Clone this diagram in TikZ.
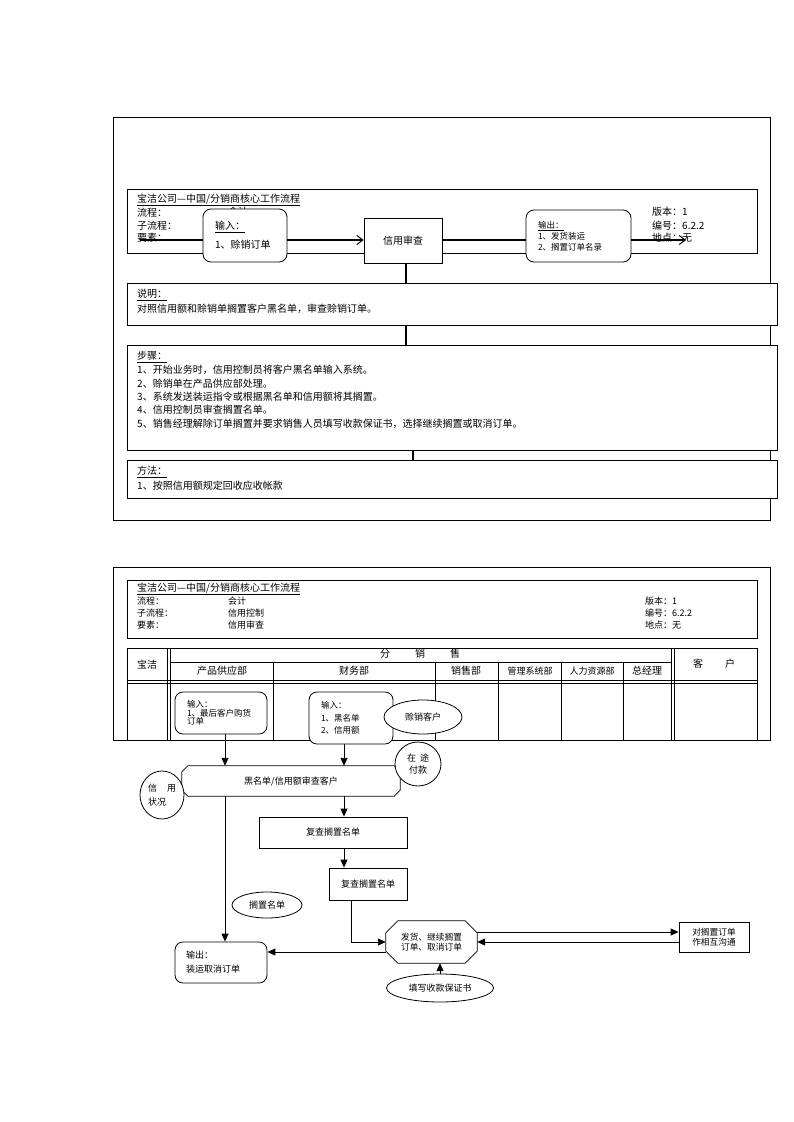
\documentclass[tikz,border=0pt]{standalone}
\usepackage{fontspec}
\setmainfont{Noto Sans CJK SC}
\usetikzlibrary{arrows.meta,shapes.geometric}
\begin{document}
\begin{tikzpicture}[x=1pt,y=-1pt,
  ln/.style={line width=0.8pt},
  box/.style={draw, line width=0.8pt, inner sep=0pt, fill=white},
  rbox/.style={box, rounded corners=8pt},
  txt/.style={inner sep=0pt, anchor=west, align=left},
  thickln/.style={line width=2.8pt},
  bigarrow/.style={thickln, -{Straight Barb[line width=1pt,length=6pt,width=9pt]}},
  flow/.style={line width=0.9pt, -{Triangle[length=8pt,width=7pt]}},
  f10/.style={font=\fontsize{10pt}{13pt}\selectfont},
  f9/.style={font=\fontsize{9pt}{12pt}\selectfont},
  f8/.style={font=\fontsize{8.5pt}{11pt}\selectfont}]
\useasboundingbox[fill=white] (0,0) rectangle (793,1122);

% ================= TOP SECTION =================
\node[box, fill=none, minimum width=657pt, minimum height=403pt] (frameA) at (441.5,318.5) {};
\node[box, minimum width=630pt, minimum height=64pt] (headA) at (442,221) {};
\node[txt,f10] (titleA) at (137,200) {\underline{宝洁公司—中国/分销商核心工作流程}};
\node[txt,f10] (lcA) at (137,213) {流程：};
\node[txt,f10] (zlcA) at (137,226) {子流程：};
\node[txt,f10] (ysA) at (137,238) {要素：};
\node[txt,f10] (lcvA) at (228,212) {会计};
\node[txt,f10] (verA) at (652,212) {版本：1};
\node[txt,f10] (numA) at (652,226) {编号：6.2.2};
\node[txt,f10] (locA) at (652,238) {地点：无};

\coordinate (startA) at (140,240);
\coordinate (endA) at (686,240);

\node[rbox, minimum width=84pt, minimum height=53pt, align=left, text width=60pt, inner xsep=12pt,
      font=\fontsize{10pt}{19pt}\selectfont] (in1) at (245,235.5) {\underline{输入：}\\1、赊销订单};
\node[box, minimum width=78pt, minimum height=45pt, f10] (shenhe) at (403,240.5) {信用审查};
\node[rbox, minimum width=105pt, minimum height=52pt, align=left, text width=81pt, inner xsep=12pt,
      font=\fontsize{8.5pt}{11pt}\selectfont] (out1) at (578.5,236) {\underline{输出：}\\1、发货装运\\2、搁置订单名录};

\draw[thickln] (startA) -- (startA -| in1.west);
\draw[bigarrow] (in1.east |- startA) -- (shenhe.west |- startA);
\draw[thickln] (shenhe.east |- startA) -- (out1.west |- startA);
\draw[bigarrow] (out1.east |- startA) -- (endA);

\node[box, minimum width=650pt, minimum height=42pt] (shuoming) at (452,304) {};
\node[txt,f10] (smT) at (137,295) {\underline{说明：}};
\node[txt,f10] (smB) at (137,309) {对照信用额和赊销单搁置客户黑名单，审查赊销订单。};

\node[box, minimum width=650pt, minimum height=105pt] (buzhou) at (452,397.5) {};
\node[txt,f10] (bz0) at (137,357) {\underline{步骤：}};
\node[txt,f10] (bz1) at (137,370) {1、开始业务时，信用控制员将客户黑名单输入系统。};
\node[txt,f10] (bz2) at (137,384) {2、赊销单在产品供应部处理。};
\node[txt,f10] (bz3) at (137,397) {3、系统发送装运指令或根据黑名单和信用额将其搁置。};
\node[txt,f10] (bz4) at (137,410) {4、信用控制员审查搁置名单。};
\node[txt,f10] (bz5) at (137,424) {5、销售经理解除订单搁置并要求销售人员填写收款保证书，选择继续搁置或取消订单。};

\node[box, minimum width=650pt, minimum height=38pt] (fangfa) at (452,479) {};
\node[txt,f10] (ffT) at (137,472) {\underline{方法：}};
\node[txt,f10] (ffB) at (137,486) {1、按照信用额规定回收应收帐款};

\draw[thickln] ([xshift=3pt]shenhe.south) -- ([xshift=3pt]shenhe.south |- shuoming.north);
\draw[thickln] ([xshift=3pt]shenhe.south |- shuoming.south) -- ([xshift=3pt]shenhe.south |- buzhou.north);
\draw[thickln] ([xshift=10pt]shenhe.south |- buzhou.south) -- ([xshift=10pt]shenhe.south |- fangfa.north);

% ================= BOTTOM SECTION =================
\node[box, fill=none, minimum width=657pt, minimum height=173pt] (frameB) at (441.5,653.5) {};
\node[box, minimum width=630pt, minimum height=58pt] (headB) at (442,609) {};
\node[txt,f10] (titleB) at (137,589) {\underline{宝洁公司—中国/分销商核心工作流程}};
\node[txt,f9] (lcB) at (137,601) {流程：};
\node[txt,f9] (zlcB) at (137,613) {子流程：};
\node[txt,f9] (ysB) at (137,625) {要素：};
\node[txt,f9] (lcvB) at (228,601) {会计};
\node[txt,f9] (zlcvB) at (228,613) {信用控制};
\node[txt,f9] (ysvB) at (228,625) {信用审查};
\node[txt,f9] (verB) at (645,601) {版本：1};
\node[txt,f9] (numB) at (645,613) {编号：6.2.2};
\node[txt,f9] (locB) at (645,625) {地点：无};

% table grid
\draw[ln] (127,648) -- (757,648);
\draw[ln] (170,662) -- (671,662);
\draw[ln] (127,680) -- (757,680);
\draw[ln] (127,683) -- (757,683);
\draw[ln] (127,648) -- (127,740);
\draw[ln] (167,648) -- (167,740);
\draw[ln] (170,648) -- (170,740);
\foreach \cx in {273,435,498,561,623} {\draw[ln] (\cx,662) -- (\cx,740);}
\draw[ln] (671,648) -- (671,740);
\draw[ln] (674,648) -- (674,740);
\draw[ln] (757,648) -- (757,740);

\node[f10, inner sep=0pt] (hBaojie) at (147,665) {宝洁};
\node[f10, inner sep=0pt] (hFenxiao) at (420,654) {分\hspace{25pt}销\hspace{25pt}售};
\node[f10, inner sep=0pt] (hKehu) at (714,664) {客\hspace{22pt}户};
\node[f10, inner sep=0pt] (hCp) at (222,671) {产品供应部};
\node[f10, inner sep=0pt] (hCw) at (354,671) {财务部};
\node[f10, inner sep=0pt] (hXs) at (466,671) {销售部};
\node[f9, inner sep=0pt] (hGl) at (530,671) {管理系统部};
\node[f9, inner sep=0pt] (hRl) at (592,671) {人力资源部};
\node[f10, inner sep=0pt] (hZj) at (647,671) {总经理};

% flow nodes
\node[rbox, minimum width=92pt, minimum height=42pt, align=left, text width=68pt, inner xsep=12pt,
      font=\fontsize{8.5pt}{8.5pt}\selectfont] (inA) at (221,713) {输入：\\1、最后客户购货\\订单};
\node[rbox, minimum width=84pt, minimum height=52pt, align=left, text width=60pt, inner xsep=12pt,
      font=\fontsize{8.5pt}{12.5pt}\selectfont] (inB) at (351,718) {输入：\\1、黑名单\\2、信用额};
\node[draw, ln, ellipse, fill=white, minimum width=78pt, minimum height=34pt, inner sep=0pt, f9] (shexiao) at (423,717) {赊销客户};

\node[minimum width=218pt, minimum height=30pt, inner sep=0pt, f9] (check) at (291,781) {黑名单/信用额审查客户};
\draw[ln] ([xshift=6pt]check.north west) -- ([xshift=-6pt]check.north east) -- ([yshift=-6pt]check.north east)
  -- ([yshift=6pt]check.south east) -- ([xshift=-6pt]check.south east) -- ([xshift=6pt]check.south west)
  -- ([yshift=6pt]check.south west) -- ([yshift=-6pt]check.north west) -- cycle;

\node[draw, ln, ellipse, fill=white, minimum width=46pt, minimum height=44pt, inner sep=0pt, align=center,
      font=\fontsize{9pt}{12pt}\selectfont] (zaitu) at (418,764) {在\hspace{4pt}途\\付款};
\node[draw, ln, ellipse, fill=white, minimum width=44pt, minimum height=48pt, inner sep=0pt, align=left,
      font=\fontsize{9pt}{14pt}\selectfont] (xinyong) at (162,795) {信\hspace{10pt}用\\状况};

\node[box, minimum width=148pt, minimum height=31pt, f9] (fucha1) at (333,832.5) {复查搁置名单};
\node[box, minimum width=78pt, minimum height=32pt, f9] (fucha2) at (368,884) {复查搁置名单};
\node[draw, ln, ellipse, minimum width=70pt, minimum height=26pt, inner sep=0pt, f9] (geizhi) at (267,905) {搁置名单};
\node[rbox, minimum width=92pt, minimum height=41pt, align=left, text width=70pt, inner xsep=11pt,
      font=\fontsize{9pt}{14pt}\selectfont] (outB) at (221,962.5) {输出：\\装运取消订单};

\node[minimum width=91pt, minimum height=42pt, inner sep=0pt, align=left,
      font=\fontsize{8.7pt}{10.5pt}\selectfont] (decide) at (431.5,942) {发货、继续搁置\\订单、取消订单};
\draw[ln] ([xshift=12pt]decide.north west) -- ([xshift=-12pt]decide.north east) -- ([yshift=-12pt]decide.north east)
  -- ([yshift=12pt]decide.south east) -- ([xshift=-12pt]decide.south east) -- ([xshift=12pt]decide.south west)
  -- ([yshift=12pt]decide.south west) -- ([yshift=-12pt]decide.north west) -- cycle;

\node[draw, ln, ellipse, minimum width=107pt, minimum height=28pt, inner sep=0pt, f9] (tianxie) at (440,988) {填写收款保证书};
\node[box, minimum width=70pt, minimum height=30pt, align=center,
      font=\fontsize{8.7pt}{10.5pt}\selectfont] (comm) at (714,937) {对搁置订单\\作相互沟通};

% flow connectors
\draw[flow] ([xshift=4pt]inA.south) -- ([xshift=4pt]inA.south |- check.north);
\draw[flow] ([xshift=-7pt]inB.south) -- ([xshift=-7pt]inB.south |- check.north);
\draw[flow] ([xshift=-7pt]inB.south |- check.south) -- ([xshift=-7pt]inB.south |- fucha1.north);
\draw[flow] ([xshift=-7pt]inB.south |- fucha1.south) -- ([xshift=-7pt]inB.south |- fucha2.north);
\draw[flow] ([xshift=4pt]inA.south |- check.south) -- ([xshift=4pt]inA.south |- outB.north);
\draw[flow] ([xshift=-17pt]fucha2.south) |- (decide.west);
\draw[flow] ([yshift=-10pt]decide.west) -- ([yshift=-10pt]decide.west -| outB.east);
\draw[flow] (tianxie.north) -- (tianxie.north |- decide.south);
\draw[flow] ([yshift=10pt]decide.east) -- ([yshift=10pt]decide.east -| comm.west);
\draw[flow] (comm.west |- decide.east) -- (decide.east);
\end{tikzpicture}
\end{document}
